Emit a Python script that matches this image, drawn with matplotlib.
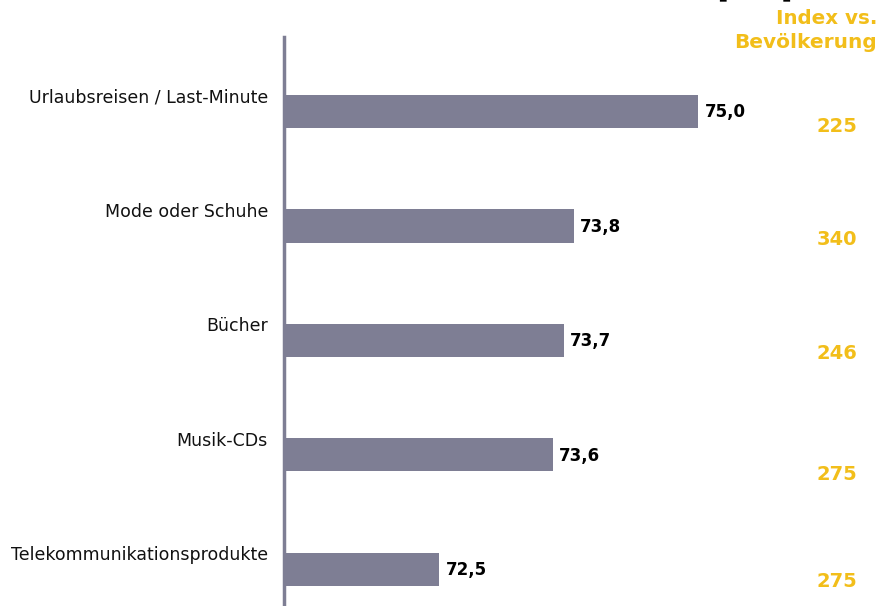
import numpy as np
import matplotlib.pyplot as plt

plt.rcParams['font.family'] = ['DejaVu Sans']

# Online-Kaeufer: Anteil (%) und Index vs. Bevoelkerung
categories = ['Urlaubsreisen / Last-Minute', 'Mode oder Schuhe', 'Bücher',
              'Musik-CDs', 'Telekommunikationsprodukte']
values = [75.0, 73.8, 73.7, 73.6, 72.5]
value_labels = ['75,0', '73,8', '73,7', '73,6', '72,5']
index_values = [225, 340, 246, 275, 275]
index_offsets = [15, 14, 13, 20, 12]  # pixel shift of the index figures below the bar centre

bar_color = '#7e7e94'
gold = '#f2be1a'
W, H = 882, 606

fig = plt.figure(figsize=(W / 100, H / 100), dpi=100)
# axes from the vertical axis line to the right edge
ax = fig.add_axes([284 / W, 0, 1 - 284 / W, 1 - 37 / H])

y = np.arange(len(categories))
base = 71.0
ax.barh(y, np.array(values) - base, left=base, height=0.29, color=bar_color, zorder=2)
ax.set_xlim(base, base + (W - 284) / 103.6)
ax.set_ylim(4.32, -0.65)

for s in ['top', 'right', 'bottom']:
    ax.spines[s].set_visible(False)
ax.spines['left'].set_color(bar_color)
ax.spines['left'].set_linewidth(2.5)
ax.set_xticks([])
ax.set_yticks([])

for i, (cat, v, lab, idx, off) in enumerate(zip(categories, values, value_labels,
                                                 index_values, index_offsets)):
    ax.annotate(cat, xy=(0, i), xycoords=('axes fraction', 'data'),
                xytext=(-16, 14), textcoords='offset pixels',
                ha='right', va='center', fontsize=12.5, color='#111111')
    ax.annotate(lab, xy=(v, i), xytext=(6, -1), textcoords='offset pixels',
                ha='left', va='center', fontsize=12, fontweight='bold', color='black')
    ax.annotate(str(idx), xy=(837 / W, i), xycoords=('figure fraction', 'data'),
                xytext=(0, -off), textcoords='offset pixels',
                ha='center', va='center', fontsize=14, fontweight='bold', color=gold)

# column header, right aligned at the figure edge
fig.text(877 / W, 1 - 18 / H, 'Index vs.', ha='right', va='center',
         fontsize=14.3, fontweight='bold', color=gold)
fig.text(877 / W, 1 - 43 / H, 'Bevölkerung', ha='right', va='center',
         fontsize=14.5, fontweight='bold', color=gold)
# header of the value column, sitting almost entirely above the top edge
fig.text(755 / W, 1 - 1 / H, '[in %]', ha='center', va='bottom',
         fontsize=16, fontweight='bold', color='black')

fig.savefig('out.png', dpi=100)
